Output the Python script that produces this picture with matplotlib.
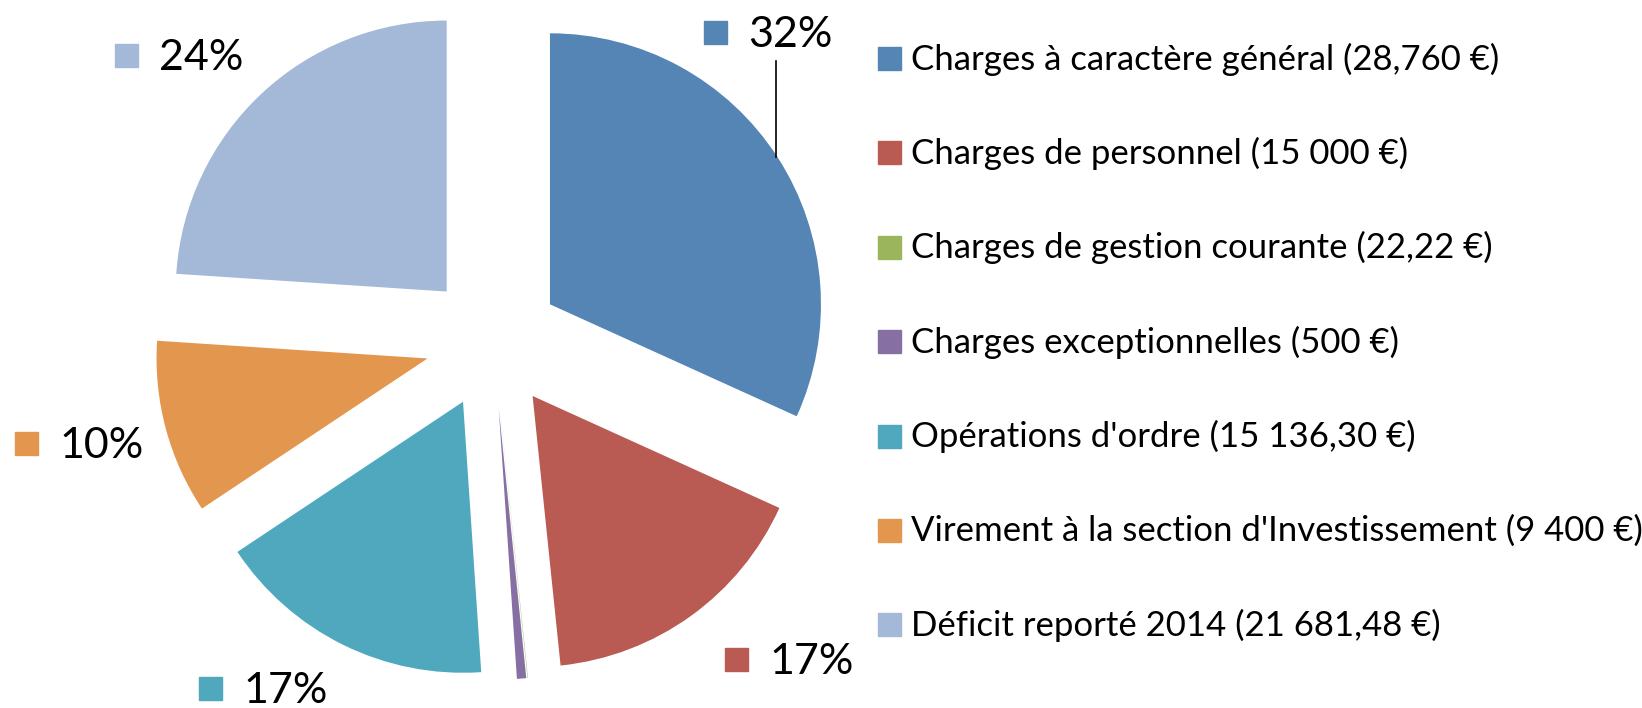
import matplotlib
matplotlib.use('Agg')
import matplotlib.pyplot as plt
from matplotlib.patches import Rectangle

plt.rcParams['font.family'] = ['Lato', 'DejaVu Sans']

# data
categories = ["Charges à caractère général (28,760 €)",
              "Charges de personnel (15 000 €)",
              "Charges de gestion courante (22,22 €)",
              "Charges exceptionnelles (500 €)",
              "Opérations d'ordre (15 136,30 €)",
              "Virement à la section d'Investissement (9 400 €)",
              "Déficit reporté 2014 (21 681,48 €)"]
values = [28760, 15000, 22.22, 500, 15136.30, 9400, 21681.48]
colors = ['#5585B5', '#B95A53', '#9BB55C', '#8670A3', '#50A8BE', '#E3974E', '#A4B8D8']

W, H = 1642, 708
fig = plt.figure(figsize=(W / 100, H / 100), dpi=100)

# pie geometry in pixels (top-left origin)
cx, cy, r = 493, 341, 271
ax = fig.add_axes([0, 0, 1, 1])
ax.axis('off')

wedges, _ = ax.pie(values, colors=colors, startangle=90, counterclock=False,
                   explode=[0.25] * len(values), radius=1,
                   wedgeprops=dict(linewidth=0))
ax.set_xlim(-cx / r, (W - cx) / r)
ax.set_ylim(-(H - cy) / r, cy / r)
ax.set_aspect('auto')


def fx(x):
    return x / W


def fy(y):
    return 1 - y / H


# percentage labels (the ones under 1% are not shown)
total = sum(values)
label_pos = {0: (704, 32), 1: (725, 659), 4: (199, 688), 5: (15, 443), 6: (115, 55)}
sq = 23
for i, (lx, ly) in label_pos.items():
    pct = values[i] / total * 100
    fig.patches.append(Rectangle((fx(lx), fy(ly + sq / 2)), sq / W, sq / H,
                                 transform=fig.transFigure, color=colors[i]))
    fig.text(fx(lx + sq + 21), fy(ly + 3), f"{pct:.0f}%", fontsize=31,
             va='center', ha='left', color='black')

# leader line for the first label
fig.add_artist(plt.Line2D([fx(776), fx(776)], [fy(61), fy(157)],
                          color='black', lw=1.2, transform=fig.transFigure))

# legend
row0, step = 59, 94.4
for i, (name, c) in enumerate(zip(categories, colors)):
    y = row0 + i * step
    fig.patches.append(Rectangle((fx(878), fy(y + 11)), 23 / W, 23 / H,
                                 transform=fig.transFigure, color=c))
    fig.text(fx(911), fy(y), name, fontsize=25, va='center', ha='left',
             color='black')

fig.savefig('out.png', dpi=100)
plt.close(fig)
